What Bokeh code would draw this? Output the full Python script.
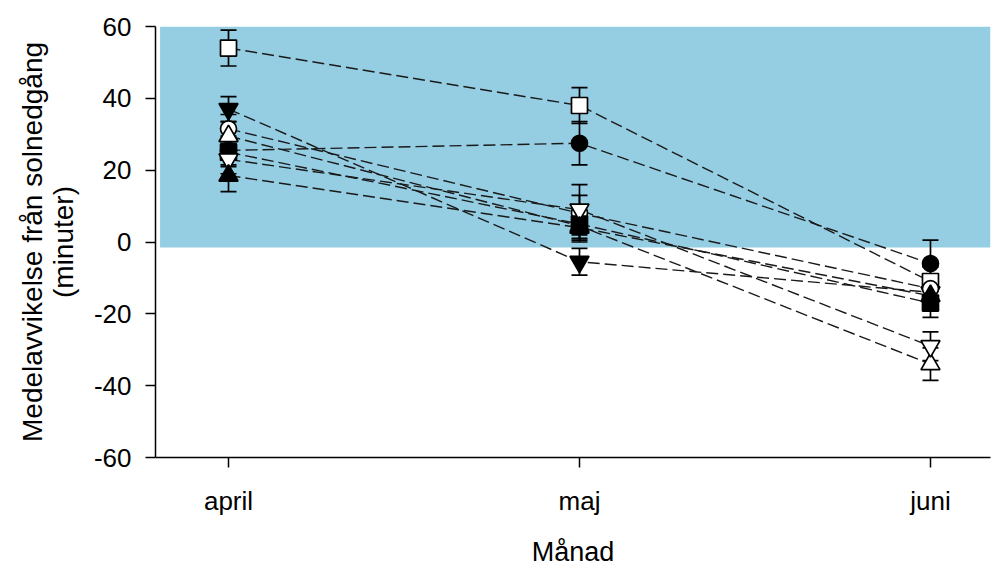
from bokeh.plotting import figure
from bokeh.models import ColumnDataSource, Whisker, TeeHead, FixedTicker, BoxAnnotation, Range1d
from bokeh.embed import file_html
from bokeh.resources import INLINE

months = ["april", "maj", "juni"]
x_pos = [0, 1, 2]
y_ticks = [-60, -40, -20, 0, 20, 40, 60]
y_tick_labels = ["-60", "-40", "-20", "0", "20", "40", "60"]

open_square = [54, 38, -11]
open_square_err = [5, 5, 4]
filled_circle = [25.5, 27.5, -6]
filled_circle_err = [4, 6, 6.5]
filled_tri_down = [37, -5.5, -14]
filled_tri_down_err = [3.5, 3.7, 4]
open_circle = [31.5, 8, -13]
open_circle_err = [4, 5, 4]
open_tri_up = [29.5, 4.5, -34]
open_tri_up_err = [4, 4, 4.5]
filled_square = [25, 5, -17]
filled_square_err = [4, 4, 4]
open_tri_down = [23, 9, -29]
open_tri_down_err = [4, 7, 4]
filled_tri_up = [18.5, 4, -15]
filled_tri_up_err = [4.5, 4, 4]

series = [
    (open_square, open_square_err, "square", False),
    (filled_circle, filled_circle_err, "circle", True),
    (filled_tri_down, filled_tri_down_err, "inverted_triangle", True),
    (open_circle, open_circle_err, "circle", False),
    (open_tri_up, open_tri_up_err, "triangle", False),
    (filled_square, filled_square_err, "square", True),
    (open_tri_down, open_tri_down_err, "inverted_triangle", False),
    (filled_tri_up, filled_tri_up_err, "triangle", True),
]

FONT = "Liberation Sans"

p = figure(width=991, height=569, output_backend="svg", toolbar_location=None,
           x_range=Range1d(-0.208, 2.171), y_range=Range1d(-60, 60),
           min_border_left=155, min_border_right=1, min_border_top=26, min_border_bottom=108)
p.outline_line_color = None
p.xgrid.visible = False
p.ygrid.visible = False
p.background_fill_color = "white"
p.border_fill_color = "white"

band = BoxAnnotation(left=-0.195, bottom=-1.5, top=60, fill_color="#95CDE3",
                     fill_alpha=1.0, line_color=None, level="underlay")
p.add_layout(band)

sources = []
for vals, err, marker, filled in series:
    src = ColumnDataSource(dict(
        x=x_pos, y=vals,
        upper=[v + e for v, e in zip(vals, err)],
        lower=[v - e for v, e in zip(vals, err)],
    ))
    sources.append(src)
    p.line("x", "y", source=src, line_color="#1a1a1a", line_width=1.4, line_dash="12 5")

for src in sources:
    w = Whisker(source=src, base="x", upper="upper", lower="lower",
                line_color="black", line_width=1.7,
                upper_head=TeeHead(size=16, line_color="black", line_width=1.7),
                lower_head=TeeHead(size=16, line_color="black", line_width=1.7))
    p.add_layout(w)

for src, (vals, err, marker, filled) in zip(sources, series):
    size = 19 if "triangle" in marker else 16
    p.scatter("x", "y", source=src, marker=marker, size=size,
              fill_color="black" if filled else "white",
              line_color="black", line_width=1.7)

p.xaxis.ticker = FixedTicker(ticks=x_pos)
p.xaxis.major_label_overrides = {i: m for i, m in zip(x_pos, months)}
p.xaxis.minor_tick_line_color = None
p.yaxis.ticker = FixedTicker(ticks=y_ticks)
p.yaxis.major_label_overrides = {t: s for t, s in zip(y_ticks, y_tick_labels)}
p.yaxis.minor_tick_line_color = None

for ax in (p.xaxis[0], p.yaxis[0]):
    ax.axis_line_color = "black"
    ax.axis_line_width = 1.5
    ax.major_tick_line_color = "black"
    ax.major_tick_line_width = 1.5
    ax.major_tick_in = 0
    ax.major_tick_out = 10
    ax.major_label_text_font = FONT
    ax.major_label_text_font_size = "26px"
    ax.major_label_text_color = "black"
    ax.axis_label_text_font = FONT
    ax.axis_label_text_font_style = "normal"
    ax.axis_label_text_color = "black"

p.xaxis.axis_label = "Månad"
p.xaxis.axis_label_text_font_size = "27px"
p.xaxis.major_label_standoff = 18
p.xaxis.axis_label_standoff = 18
p.yaxis.axis_label = "Medelavvikelse från solnedgång\n(minuter)"
p.yaxis.axis_label_text_font_size = "28px"
p.yaxis.axis_label_text_line_height = 1.0
p.yaxis.major_label_standoff = 14
p.yaxis.axis_label_standoff = 12

open("out.html", "w").write(file_html(p, INLINE))
